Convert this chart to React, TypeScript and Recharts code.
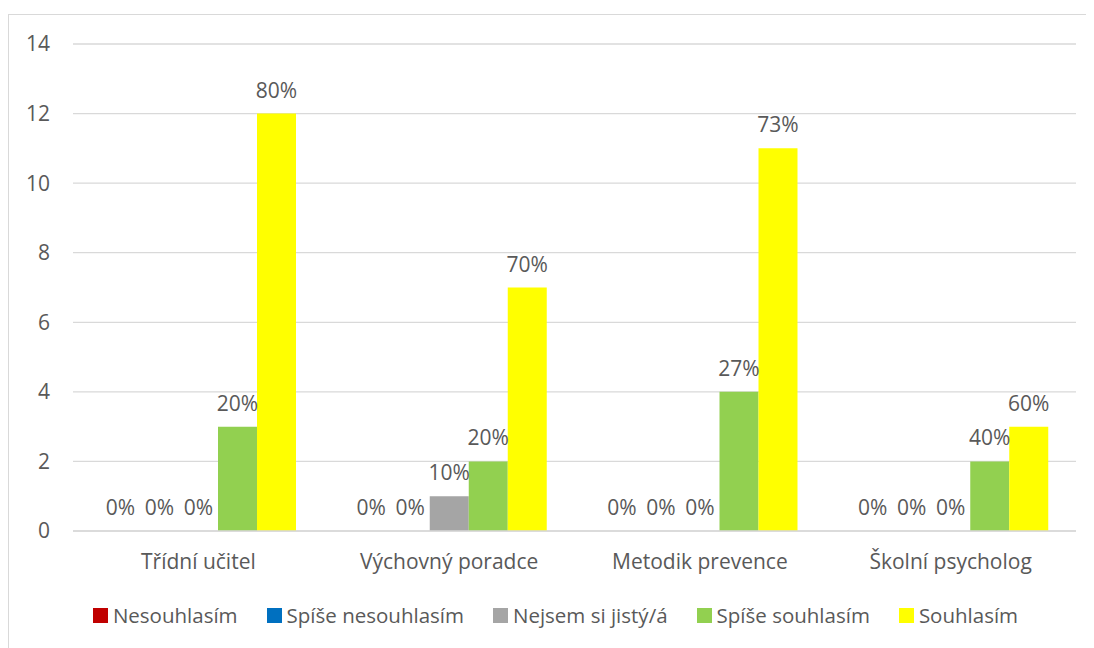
import React from 'react';
import { BarChart, Bar, XAxis, YAxis, CartesianGrid, Legend, LabelList } from 'recharts';

const categories = ['Třídní učitel', 'Výchovný poradce', 'Metodik prevence', 'Školní psycholog'];

const seriesNames = ['Nesouhlasím', 'Spíše nesouhlasím', 'Nejsem si jistý/á', 'Spíše souhlasím', 'Souhlasím'];
const seriesColors = ['#C00000', '#0070C0', '#A5A5A5', '#92D050', '#FFFF00'];

// counts per category
const nesouhlasim = [0, 0, 0, 0];
const spiseNesouhlasim = [0, 0, 0, 0];
const nejsemSiJisty = [0, 1, 0, 0];
const spiseSouhlasim = [3, 2, 4, 2];
const souhlasim = [12, 7, 11, 3];

// data labels (share within category)
const pctNesouhlasim = ['0%', '0%', '0%', '0%'];
const pctSpiseNesouhlasim = ['0%', '0%', '0%', '0%'];
const pctNejsemSiJisty = ['0%', '10%', '0%', '0%'];
const pctSpiseSouhlasim = ['20%', '20%', '27%', '40%'];
const pctSouhlasim = ['80%', '70%', '73%', '60%'];

const yTicks = [0, 2, 4, 6, 8, 10, 12, 14];

const values = [nesouhlasim, spiseNesouhlasim, nejsemSiJisty, spiseSouhlasim, souhlasim];
const pcts = [pctNesouhlasim, pctSpiseNesouhlasim, pctNejsemSiJisty, pctSpiseSouhlasim, pctSouhlasim];

const data = categories.map((name, i) => {
  const row: Record<string, string | number> = { name };
  values.forEach((arr, s) => {
    row[`s${s}`] = arr[i];
    row[`p${s}`] = pcts[s][i];
  });
  return row;
});

const FONT = '"Open Sans", "Noto Sans", sans-serif';
const TEXT = '#595959';
const FS = 21;

const renderLabel = (props: any) => {
  const { x, y, width, value } = props;
  return (
    <text
      x={Number(x) + Number(width) / 2}
      y={Number(y) - 16}
      textAnchor="middle"
      fill={TEXT}
      fontSize={FS}
      fontFamily={FONT}
    >
      {value}
    </text>
  );
};

const LegendContent = () => (
  <div style={{ display: 'flex', justifyContent: 'center', alignItems: 'center', height: 24, fontFamily: FONT, fontSize: 20.5, color: TEXT }}>
    {seriesNames.map((n, i) => (
      <div key={n} style={{ display: 'flex', alignItems: 'center', marginRight: i < seriesNames.length - 1 ? 29 : 0 }}>
        <span style={{ display: 'inline-block', width: 15, height: 15, background: seriesColors[i], marginRight: 5 }} />
        <span>{n}</span>
      </div>
    ))}
  </div>
);

export default function App() {
  return (
    <div style={{ marginTop: 6, width: 1100, height: 660, border: '1px solid #D9D9D9', background: '#fff', fontFamily: FONT }}>
      <BarChart
        width={1085}
        height={633}
        data={data}
        margin={{ top: 29, right: 18, left: 0, bottom: 21 }}
        barGap={0}
        barCategoryGap={28}
      >
        <CartesianGrid vertical={false} stroke="#D9D9D9" strokeWidth={1.3} />
        <XAxis
          dataKey="name"
          height={72}
          axisLine={{ stroke: '#D9D9D9', strokeWidth: 1.3 }}
          tickLine={false}
          tickMargin={17}
          tick={{ fill: TEXT, fontSize: FS, fontFamily: FONT }}
        />
        <YAxis
          width={64}
          domain={[0, 14]}
          ticks={yTicks}
          axisLine={false}
          tickLine={false}
          tickMargin={17}
          tick={{ fill: TEXT, fontSize: FS, fontFamily: FONT }}
        />
        <Legend verticalAlign="bottom" content={<LegendContent />} wrapperStyle={{ left: 13 }} />
        {seriesNames.map((n, s) => (
          <Bar key={n} dataKey={`s${s}`} name={n} fill={seriesColors[s]} minPointSize={0.01} isAnimationActive={false}>
            <LabelList dataKey={`p${s}`} content={renderLabel} />
          </Bar>
        ))}
      </BarChart>
    </div>
  );
}
